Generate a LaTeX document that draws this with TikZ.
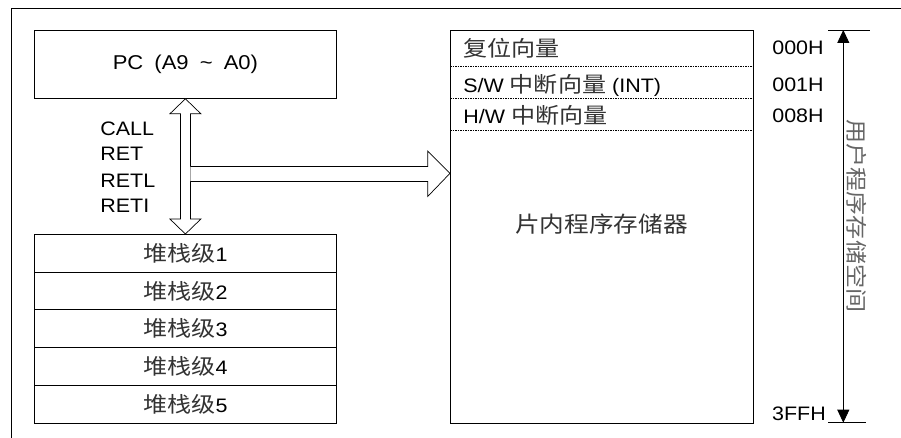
\documentclass[tikz,border=0pt]{standalone}
\usepackage{fontspec}
\setmainfont{Liberation Sans}[FakeStretch=1.1]
\newfontfamily\cjk{Noto Sans CJK SC}[FakeStretch=1.12]
\usetikzlibrary{arrows.meta,calc}
\newcommand\mylat{\fontsize{19.5}{21}\selectfont}
\newcommand\mycjk{\cjk\fontsize{21.5}{23}\selectfont\color{black!80}}
\begin{document}
\begin{tikzpicture}[x=1pt,y=-1pt,
  line width=0.8pt,
  font=\mylat,
  boxnode/.style={draw,inner sep=0pt,anchor=north west,minimum width=302pt},
  rowbox/.style={boxnode,minimum height=37.74pt},
  arrowshape/.style={draw,fill=white,line width=0.7pt,line join=miter},
  sep/.style={draw,dash pattern=on 1.5pt off 1pt,line width=0.6pt},
  addr/.style={inner sep=0pt},
  memtext/.style={anchor=west,inner sep=0pt},
  cmd/.style={anchor=west,inner sep=0pt}]
\useasboundingbox (0,0) rectangle (901,438);
% outer frame
\draw (11,438) -- (11,8) -- (901,8);
% PC box
\node[boxnode,minimum height=68pt] (pc) at (34,30) {};
\node at (pc.center) {\fontsize{20}{22}\selectfont PC\hspace{5pt} (A9\hspace{5pt} \char`\~{}\hspace{5pt} A0)};
% stack
\node[rowbox] (s1) at (34,234) {};
\node[rowbox] (s2) at (34,271.74) {};
\node[rowbox] (s3) at (34,309.48) {};
\node[rowbox] (s4) at (34,347.22) {};
\node[rowbox] (s5) at (34,384.96) {};
\foreach \i in {1,...,5}{
  \node at (s\i.center) {{\mycjk 堆栈级}\i};
}
% memory
\node[boxnode,minimum width=302.7pt,minimum height=392.7pt] (mem) at (450,30) {};
\coordinate (d1) at (450,66);
\coordinate (d2) at (450,98.7);
\coordinate (d3) at (450,130);
\foreach \d in {d1,d2,d3}{
  \draw[sep] (\d) -- (\d -| mem.east);
}
\node[memtext] (m1) at (463,48) {\mycjk 复位向量};
\node[memtext] (m2) at (463,85) {S/W {\mycjk 中断向量} (INT)};
\node[memtext] (m3) at (463,115.5) {H/W {\mycjk 中断向量}};
\node (mt) at (601.5,224) {\mycjk\fontsize{22}{24}\selectfont 片内程序存储器};
% double arrow PC <-> stack
\draw[arrowshape] (pc.south) -- ($(pc.south)+(15.5,15)$) -- ($(pc.south)+(5,15)$)
  -- ($(s1.north)+(5,-15)$) -- ($(s1.north)+(15.5,-15)$) -- (s1.north)
  -- ($(s1.north)+(-15.5,-15)$) -- ($(s1.north)+(-5,-15)$)
  -- ($(pc.south)+(-5,15)$) -- ($(pc.south)+(-15.5,15)$) -- cycle;
% horizontal arrow to memory
\coordinate (tip) at ($(mem.north west)+(0,143.3)$);
\coordinate (hstart) at ($(pc.south)+(5,75.3)$);
\draw[arrowshape] (hstart |- 0,166.5) -- (427.7,166.5) -- (427.7,151) -- (tip)
  -- (427.7,196.5) -- (427.7,181.5) -- (hstart |- 0,181.5);
% instructions
\node[cmd] (c1) at (100,128.5) {CALL};
\node[cmd] (c2) at (100,154) {RET};
\node[cmd] (c3) at (100,180.5) {RETL};
\node[cmd] (c4) at (100,206) {RETI};
% address scale
\node[addr] (a0) at (798,48) {000H};
\node[addr] (a1) at (798,85) {001H};
\node[addr] (a8) at (798,116) {008H};
\node[addr] (a3) at (799,414) {3FFH};
\coordinate (atop) at (843.3,30);
\coordinate (abot) at (843.3,422.7);
\draw (828,30) -- (870,30);
\draw (828,422.7) -- (866,422.7);
\draw[{Triangle[width=12pt,length=13pt]}-{Triangle[width=12pt,length=13pt]}] (atop) -- (abot);
\node[rotate=-90,inner sep=0pt] (vt) at (857,216) {\mycjk\color{black!60} 用户程序存储空间};
\end{tikzpicture}
\end{document}
